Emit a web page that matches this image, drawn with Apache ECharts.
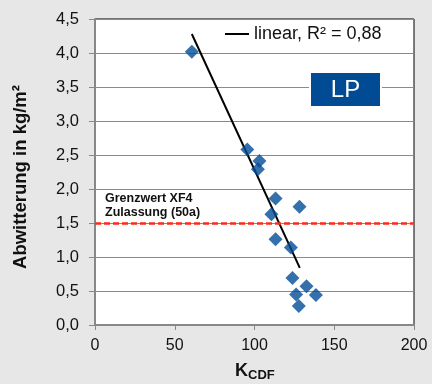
<!DOCTYPE html>
<html>
<head>
<meta charset="utf-8">
<script src="https://cdn.jsdelivr.net/npm/echarts@6/dist/echarts.min.js"></script>
</head>
<body style="margin:0;background:#e7e7e7">
<div id="chart" style="width:432px;height:384px"></div>
<script>
// Messwerte LP
var kcdf = [60.7, 95.5, 103.1, 102.1, 113.2, 128.2, 110.6, 113.2, 122.8, 123.8, 132.6, 126.1, 138.5, 127.8];
var abwitterung = [4.02, 2.58, 2.41, 2.29, 1.86, 1.74, 1.63, 1.26, 1.14, 0.69, 0.57, 0.45, 0.44, 0.28];
// Trendlinie (Endpunkte)
var trendX = [60.7, 128.4];
var trendY = [4.28, 0.84];
var grenzwert = 1.5;
var xTicks = [0, 50, 100, 150, 200];
var yTicks = [0, 0.5, 1, 1.5, 2, 2.5, 3, 3.5, 4, 4.5];

var points = kcdf.map(function (x, i) { return [x, abwitterung[i]]; });
var trend = trendX.map(function (x, i) { return [x, trendY[i]]; });

var chart = echarts.init(document.getElementById('chart'));
var font = 'Arial, "Liberation Sans", sans-serif';
option = {
    backgroundColor: '#e7e7e7',
    animation: false,
    textStyle: { fontFamily: font },
    grid: {
        left: 95, top: 19, width: 319, height: 306,
        show: true, backgroundColor: '#fff', borderColor: '#000', borderWidth: 1
    },
    legend: {
        left: 220, top: 20,
        icon: 'rect',
        itemWidth: 24, itemHeight: 2,
        textStyle: { fontSize: 18, color: '#111' },
        data: ['linear, R² = 0,88']
    },
    xAxis: {
        type: 'value',
        min: xTicks[0], max: xTicks[xTicks.length - 1], interval: 50,
        axisLine: { show: true, lineStyle: { color: '#888', width: 2 } },
        axisTick: { show: true, length: 5, lineStyle: { color: '#888' } },
        splitLine: { show: false },
        axisLabel: { fontSize: 16, color: '#111', margin: 13 }
    },
    yAxis: {
        type: 'value',
        min: yTicks[0], max: yTicks[yTicks.length - 1], interval: 0.5,
        axisLine: { show: true, lineStyle: { color: '#888', width: 2 } },
        axisTick: { show: true, length: 6, lineStyle: { color: '#888' } },
        splitLine: { show: true, lineStyle: { color: '#8a8a8a', width: 1 } },
        axisLabel: {
            fontSize: 16.5, color: '#111', margin: 16,
            formatter: function (v) { return v.toFixed(1).replace('.', ','); }
        }
    },
    graphic: [
        {
            type: 'text', x: 21, y: 177, rotation: Math.PI / 2,
            style: { text: 'Abwitterung in kg/m²', font: 'bold 18.5px ' + font, fill: '#111',
                     textAlign: 'center', textVerticalAlign: 'middle' }
        },
        {
            type: 'text', x: 235, y: 371.5,
            style: { text: 'K', font: 'bold 18px ' + font, fill: '#111', textVerticalAlign: 'middle' }
        },
        {
            type: 'text', x: 248, y: 375.5,
            style: { text: 'CDF', font: 'bold 13px ' + font, fill: '#111', textVerticalAlign: 'middle' }
        },
        {
            type: 'text', x: 105, y: 198.5, z: 10,
            style: { text: 'Grenzwert XF4', font: 'bold 12.5px ' + font, fill: '#111', textVerticalAlign: 'middle' }
        },
        {
            type: 'text', x: 105, y: 212.5, z: 10,
            style: { text: 'Zulassung (50a)', font: 'bold 12.5px ' + font, fill: '#111', textVerticalAlign: 'middle' }
        },
        {
            type: 'rect', z: 10,
            shape: { x: 310, y: 72, width: 71, height: 35 },
            style: { fill: '#004b93', stroke: '#fff', lineWidth: 2 }
        },
        {
            type: 'text', x: 345.5, y: 90, z: 11,
            style: { text: 'LP', font: '24px ' + font, fill: '#fff', textAlign: 'center', textVerticalAlign: 'middle' }
        }
    ],
    series: [
        {
            name: 'Messwerte',
            type: 'scatter',
            symbol: 'diamond',
            symbolSize: 14,
            itemStyle: { color: '#004c97' },
            data: points,
            z: 3,
            markLine: {
                silent: true,
                symbol: 'none',
                label: { show: false },
                lineStyle: { color: '#ff2a1a', width: 2.5, type: [6, 3] },
                data: [{ yAxis: grenzwert }]
            }
        },
        {
            name: 'linear, R² = 0,88',
            type: 'line',
            symbol: 'none',
            lineStyle: { color: '#000', width: 2 },
            itemStyle: { color: '#000' },
            data: trend,
            z: 2
        }
    ]
};
chart.setOption(option);
</script>
</body>
</html>
